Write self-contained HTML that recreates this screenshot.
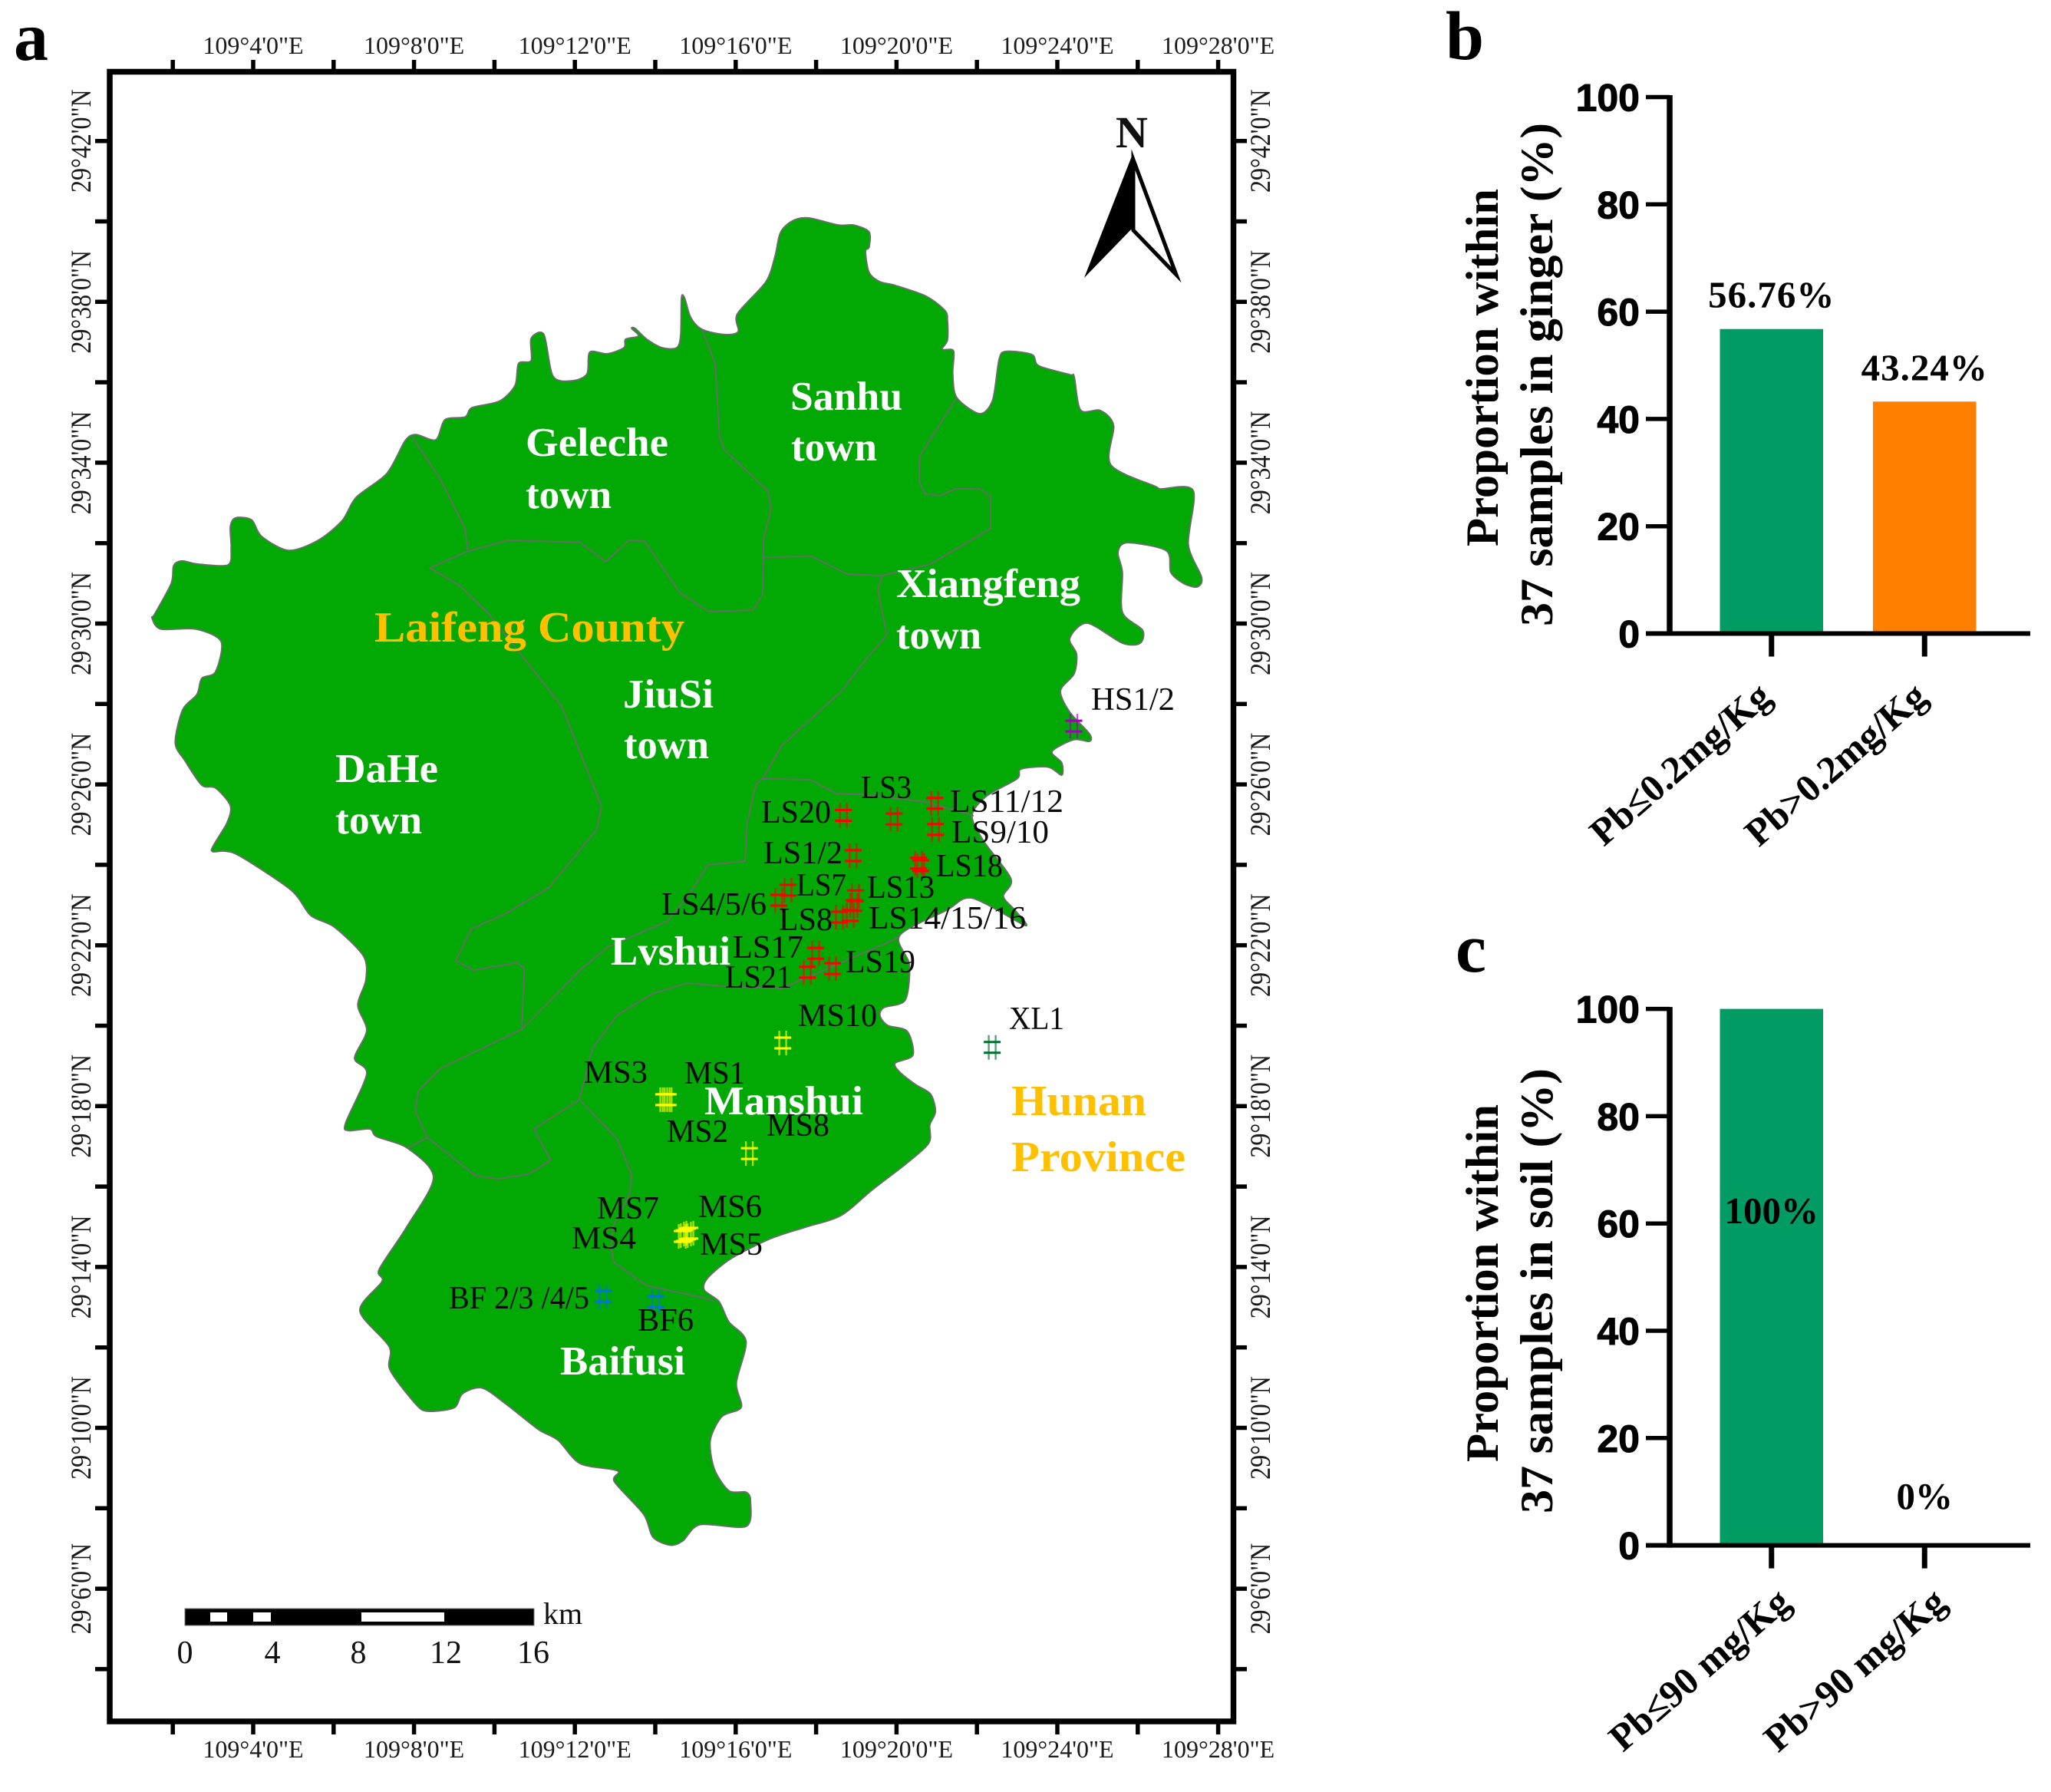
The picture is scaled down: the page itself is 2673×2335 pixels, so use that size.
<!DOCTYPE html>
<html lang="en">
<head>
<meta charset="utf-8">
<title>Laifeng County sampling map and Pb proportions</title>
<style>
html,body{margin:0;padding:0;background:#fff;}
svg{display:block;}
text{font-family:"Liberation Serif",serif;}
.tick{font-size:32px;fill:#1a1a1a;}
.town{font-size:53px;font-weight:bold;fill:#fff;}
.gold{font-size:56px;font-weight:bold;fill:#ffc000;}
.site{font-size:42px;fill:#0a0a0a;}
.panel{font-size:90px;font-weight:bold;fill:#000;}
.ytitle{font-size:60px;font-weight:bold;fill:#000;}
.val{font-size:49px;font-weight:bold;fill:#000;}
.cat{font-size:50px;font-weight:bold;fill:#000;}
.num{font-family:"Liberation Sans",sans-serif;font-size:50px;font-weight:bold;fill:#000;stroke:#000;stroke-width:1;}
</style>
</head>
<body>
<svg id="figure" xmlns="http://www.w3.org/2000/svg" width="2673" height="2335" viewBox="0 0 2673 2335">
<rect x="0" y="0" width="2673" height="2335" fill="#fff"/>

<text class="panel" x="18" y="78">a</text>
<text class="panel" x="1884" y="77">b</text>
<text class="panel" x="1897" y="1266">c</text>

<g id="map-layer"></g>
<g id="site-layer"></g>

<g>
<text class="town" x="685" y="594" textLength="186" lengthAdjust="spacingAndGlyphs">Geleche</text>
<text class="town" x="685" y="662" textLength="112" lengthAdjust="spacingAndGlyphs">town</text>
<text class="town" x="1030" y="534" textLength="146" lengthAdjust="spacingAndGlyphs">Sanhu</text>
<text class="town" x="1031" y="600" textLength="112" lengthAdjust="spacingAndGlyphs">town</text>
<text class="town" x="1168" y="778" textLength="240" lengthAdjust="spacingAndGlyphs">Xiangfeng</text>
<text class="town" x="1168" y="845" textLength="111" lengthAdjust="spacingAndGlyphs">town</text>
<text class="town" x="812" y="922" textLength="118" lengthAdjust="spacingAndGlyphs">JiuSi</text>
<text class="town" x="813" y="988" textLength="111" lengthAdjust="spacingAndGlyphs">town</text>
<text class="town" x="437" y="1019" textLength="134" lengthAdjust="spacingAndGlyphs">DaHe</text>
<text class="town" x="437" y="1086" textLength="113" lengthAdjust="spacingAndGlyphs">town</text>
<text class="town" x="796" y="1257" textLength="156" lengthAdjust="spacingAndGlyphs">Lvshui</text>
<text class="town" x="918" y="1452" textLength="207" lengthAdjust="spacingAndGlyphs">Manshui</text>
<text class="town" x="730" y="1791" textLength="163" lengthAdjust="spacingAndGlyphs">Baifusi</text>
<text class="gold" x="488" y="836" textLength="404" lengthAdjust="spacingAndGlyphs">Laifeng County</text>
<text class="gold" x="1318" y="1453" textLength="176" lengthAdjust="spacingAndGlyphs">Hunan</text>
<text class="gold" x="1318" y="1526" textLength="227" lengthAdjust="spacingAndGlyphs">Province</text>
</g>

<g>
<text class="site" x="1122" y="1040" textLength="66" lengthAdjust="spacingAndGlyphs">LS3</text>
<text class="site" x="1238" y="1058" textLength="148" lengthAdjust="spacingAndGlyphs">LS11/12</text>
<text class="site" x="1240" y="1098" textLength="127" lengthAdjust="spacingAndGlyphs">LS9/10</text>
<text class="site" x="992" y="1072" textLength="91" lengthAdjust="spacingAndGlyphs">LS20</text>
<text class="site" x="995" y="1125" textLength="103" lengthAdjust="spacingAndGlyphs">LS1/2</text>
<text class="site" x="1220" y="1142" textLength="87" lengthAdjust="spacingAndGlyphs">LS18</text>
<text class="site" x="1038" y="1167" textLength="65" lengthAdjust="spacingAndGlyphs">LS7</text>
<text class="site" x="1130" y="1170" textLength="88" lengthAdjust="spacingAndGlyphs">LS13</text>
<text class="site" x="862" y="1192" textLength="137" lengthAdjust="spacingAndGlyphs">LS4/5/6</text>
<text class="site" x="1015" y="1212" textLength="70" lengthAdjust="spacingAndGlyphs">LS8</text>
<text class="site" x="1132" y="1210" textLength="205" lengthAdjust="spacingAndGlyphs">LS14/15/16</text>
<text class="site" x="955" y="1248" textLength="92" lengthAdjust="spacingAndGlyphs">LS17</text>
<text class="site" x="945" y="1287" textLength="87" lengthAdjust="spacingAndGlyphs">LS21</text>
<text class="site" x="1102" y="1267" textLength="91" lengthAdjust="spacingAndGlyphs">LS19</text>
<text class="site" x="1040" y="1337" textLength="103" lengthAdjust="spacingAndGlyphs">MS10</text>
<text class="site" x="1315" y="1341" textLength="72" lengthAdjust="spacingAndGlyphs">XL1</text>
<text class="site" x="1422" y="925" textLength="109" lengthAdjust="spacingAndGlyphs">HS1/2</text>
<text class="site" x="761" y="1411" textLength="83" lengthAdjust="spacingAndGlyphs">MS3</text>
<text class="site" x="892" y="1412" textLength="79" lengthAdjust="spacingAndGlyphs">MS1</text>
<text class="site" x="869" y="1488" textLength="80" lengthAdjust="spacingAndGlyphs">MS2</text>
<text class="site" x="999" y="1480" textLength="82" lengthAdjust="spacingAndGlyphs">MS8</text>
<text class="site" x="778" y="1588" textLength="81" lengthAdjust="spacingAndGlyphs">MS7</text>
<text class="site" x="910" y="1586" textLength="83" lengthAdjust="spacingAndGlyphs">MS6</text>
<text class="site" x="745" y="1627" textLength="84" lengthAdjust="spacingAndGlyphs">MS4</text>
<text class="site" x="912" y="1635" textLength="82" lengthAdjust="spacingAndGlyphs">MS5</text>
<text class="site" x="585" y="1705" textLength="183" lengthAdjust="spacingAndGlyphs">BF 2/3 /4/5</text>
<text class="site" x="831" y="1734" textLength="73" lengthAdjust="spacingAndGlyphs">BF6</text>
</g>

<g>
<text x="1475" y="192" text-anchor="middle" font-size="58" font-weight="bold" fill="#111">N</text>
<polygon points="1476,201 1413,362 1477,296" fill="#000"/>
<polygon points="1477,208 1533,358 1477,300" fill="#fff" stroke="#000" stroke-width="5" stroke-miterlimit="12"/>
</g>

<g>
<rect x="241" y="2096" width="455" height="22" fill="#000" stroke="#777" stroke-width="1"/>
<rect x="274" y="2101" width="22" height="12" fill="#fff"/>
<rect x="330" y="2101" width="23" height="12" fill="#fff"/>
<rect x="471" y="2101" width="108" height="12" fill="#fff"/>
<text x="708" y="2116" font-size="40" fill="#111">km</text>
<text x="241" y="2167" font-size="42" text-anchor="middle" fill="#111">0</text>
<text x="355" y="2167" font-size="42" text-anchor="middle" fill="#111">4</text>
<text x="467" y="2167" font-size="42" text-anchor="middle" fill="#111">8</text>
<text x="581" y="2167" font-size="42" text-anchor="middle" fill="#111">12</text>
<text x="695" y="2167" font-size="42" text-anchor="middle" fill="#111">16</text>
</g>

<g id="frame-layer"></g>

<g>
<text class="ytitle" transform="translate(1952 479) rotate(-90)" text-anchor="middle" textLength="466" lengthAdjust="spacingAndGlyphs">Proportion within</text>
<text class="ytitle" transform="translate(2023 488) rotate(-90)" text-anchor="middle" textLength="656" lengthAdjust="spacingAndGlyphs">37 samples in ginger (%)</text>
</g>
<g>
<text class="ytitle" transform="translate(1952 1672) rotate(-90)" text-anchor="middle" textLength="466" lengthAdjust="spacingAndGlyphs">Proportion within</text>
<text class="ytitle" transform="translate(2023 1682) rotate(-90)" text-anchor="middle" textLength="580" lengthAdjust="spacingAndGlyphs">37 samples in soil (%)</text>
</g>
<g id="chart-b"></g>
<g id="chart-c"></g>
</svg>

<script>
// ---------- Map graticule: arc-minutes past 109 deg E and 29 deg N ----------
const lonTickMinutes = [2,4,6,8,10,12,14,16,18,20,22,24,26,28];
const lonTickLabels = ['', '109°4\'0"E', '', '109°8\'0"E', '', '109°12\'0"E', '', '109°16\'0"E', '', '109°20\'0"E', '', '109°24\'0"E', '', '109°28\'0"E'];
const latTickMinutes = [42,40,38,36,34,32,30,28,26,24,22,20,18,16,14,12,10,8,6,4];
const latTickLabels = ['29°42\'0"N', '', '29°38\'0"N', '', '29°34\'0"N', '', '29°30\'0"N', '', '29°26\'0"N', '', '29°22\'0"N', '', '29°18\'0"N', '', '29°14\'0"N', '', '29°10\'0"N', '', '29°6\'0"N', ''];

const countyOutline = [
[1.55,30.24],[1.96,31.00],[2.02,31.44],[2.23,31.56],[2.63,31.48],[3.37,31.46],[3.45,31.88],[3.43,32.41],[3.56,32.63],[3.96,32.58],
[4.21,32.17],[4.88,31.82],[5.61,32.07],[6.21,32.56],[6.56,33.14],[7.32,33.73],[7.78,34.55],[8.05,34.70],[8.54,34.57],[8.77,35.07],
[9.27,35.14],[9.44,35.37],[10.12,35.53],[10.51,35.92],[10.60,36.47],[10.91,36.54],[10.91,37.09],[11.23,37.19],[11.46,36.15],[11.94,36.04],
[12.30,36.21],[12.37,36.75],[12.80,36.71],[13.22,36.86],[13.26,37.07],[13.58,37.15],[13.41,37.34],[13.50,37.34],[13.79,37.07],[14.17,36.86],
[14.53,36.86],[14.63,37.17],[14.65,38.10],[14.73,38.10],[14.88,37.62],[15.16,37.32],[15.70,37.19],[16.06,37.26],[16.04,37.70],[16.75,38.50],
[16.98,39.15],[17.11,39.72],[17.40,40.01],[17.80,40.09],[18.56,39.91],[18.94,39.91],[19.32,39.74],[19.32,39.36],[19.23,39.25],[19.32,38.73],
[19.59,38.50],[19.97,38.41],[20.74,38.14],[21.21,37.78],[21.27,37.53],[21.27,37.05],[21.14,36.82],[21.42,36.78],[21.40,36.21],[21.50,35.62],
[22.07,35.22],[22.39,35.56],[22.55,36.57],[22.72,36.77],[23.37,36.69],[23.54,36.41],[24.31,36.19],[24.42,36.14],[24.58,35.31],
[25.07,35.30],[25.40,34.93],[25.33,33.95],[26.44,33.41],[26.56,33.35],[27.38,33.31],[27.26,31.97],[27.59,31.15],[27.48,30.91],[27.15,30.99],
[26.82,31.27],[26.71,31.81],[25.74,32.01],[25.51,31.77],[25.62,31.27],[25.62,30.28],[26.12,29.84],[26.06,29.51],[25.62,29.51],[24.74,30.01],
[24.31,29.63],[24.48,29.24],[24.42,28.75],[24.08,28.33],[24.31,27.80],[24.80,27.26],[24.80,27.07],[24.41,27.11],[23.87,26.82],[24.11,26.54],
[24.11,26.23],[23.77,26.43],[23.10,26.38],[23.00,26.14],[22.23,25.70],[21.88,25.22],[22.17,24.59],[22.85,23.65],[22.66,23.22],[22.95,22.87],
[23.20,22.49],[21.88,23.17],[21.25,22.87],[20.08,22.24],[20.32,21.52],[20.22,20.64],[19.69,20.45],[19.59,20.25],[19.78,20.01],[20.27,19.86],
[20.41,19.27],[19.97,19.07],[20.08,18.85],[20.47,18.54],[20.85,18.30],[20.97,17.86],[20.83,17.53],[20.81,17.09],[20.27,16.59],[19.40,15.92],
[18.62,15.28],[17.74,14.99],[16.86,14.70],[15.89,14.21],[15.31,13.73],[15.22,13.43],[15.59,13.14],[15.83,12.64],[16.26,12.15],[16.02,11.12],
[16.14,10.51],[15.66,10.28],[15.37,9.69],[15.47,8.98],[15.83,8.44],[16.26,8.40],[16.37,8.18],[16.26,7.55],[15.11,7.59],[14.69,7.19],
[14.38,7.08],[13.94,7.28],[13.71,7.85],[12.98,8.66],[13.06,8.93],[12.13,9.11],[11.58,9.69],[11.09,9.96],[10.30,10.58],[9.69,10.99],
[9.21,10.85],[9.00,10.50],[8.35,10.41],[8.05,10.58],[7.40,11.44],[7.38,12.02],[6.65,12.91],[7.20,13.64],[7.13,13.94],[7.80,14.97],
[8.48,16.22],[7.84,16.95],[7.07,17.24],[6.90,17.43],[6.36,17.39],[6.30,17.59],[6.82,18.80],[6.52,19.19],[6.82,19.88],[6.60,20.51],
[6.80,21.14],[6.74,21.73],[6.02,22.45],[5.43,22.74],[4.94,23.37],[3.68,24.21],[3.29,24.34],[2.96,24.37],[3.34,25.03],[3.43,25.47],
[3.06,25.91],[2.72,25.98],[2.30,26.59],[2.06,27.03],[2.24,27.85],[2.60,28.24],[2.72,28.64],[3.06,28.80],[3.20,29.55],[2.57,29.86],
[1.70,29.86],[1.48,30.14]
];

// Township boundaries as [lon minutes, lat minutes]
const borderGelecheWest = [[7.95,34.65],[8.66,33.58],[9.27,32.36],[9.34,31.80]];
const borderJiusiDahe = [[16.67,30.72],[16.42,30.33],[15.32,30.30],[14.61,30.77],[13.73,32.05],[13.34,32.07],[12.77,31.54],[12.13,32.02],[10.35,32.07],[9.34,31.80],[8.39,31.38],[9.14,30.94],[9.86,30.24],[11.67,27.95],[12.66,25.47],[12.55,24.88],[11.35,23.43],[10.30,22.80],[9.42,22.40],[9.04,21.62],[9.48,21.38],[10.57,21.57],[10.74,21.42],[10.68,19.91]];
const borderGelecheSanhu = [[15.16,37.32],[15.49,36.47],[15.60,34.67],[15.71,34.33],[16.81,33.29],[16.88,32.85],[16.69,32.09],[16.67,30.72]];
const borderSanhuSouth = [[16.69,31.65],[17.89,31.67],[18.77,31.23],[19.65,31.19],[20.85,31.48],[22.34,32.36],[22.34,33.18],[22.06,33.35],[21.46,33.35],[21.08,33.18],[20.70,33.23],[20.56,33.56],[20.58,34.17],[21.50,35.62]];
const borderJiusiXiangfeng = [[19.65,31.19],[19.53,30.83],[19.76,29.72],[19.21,29.07],[18.64,28.33],[17.15,26.97],[16.67,26.14]];
const borderLvshuiNorth = [[21.92,25.22],[20.76,25.56],[19.20,25.75],[18.52,25.77],[17.84,26.12],[16.67,26.14],[16.50,26.00],[16.28,25.02],[16.23,24.09],[15.31,24.00],[14.87,23.31],[14.31,22.60],[12.82,21.96],[12.17,21.42],[10.68,19.91],[8.66,18.94],[8.10,18.37],[8.03,17.87],[8.33,17.22],[7.84,16.96]];
const borderManshui = [[8.33,17.22],[9.53,16.27],[10.09,16.19],[10.85,16.31],[11.40,16.65],[10.98,17.43],[12.11,18.16],[12.44,19.44],[13.05,20.26],[13.92,20.79],[14.79,21.06],[15.70,20.98],[17.15,20.93],[17.84,21.23],[19.97,22.15],[20.08,22.24]];
const borderBaifusi = [[12.11,18.16],[13.05,17.19],[13.41,16.31],[13.37,15.83],[12.93,14.97],[12.91,14.44],[12.97,14.12],[13.77,13.54],[15.22,13.23],[15.47,13.14]];

// Sampling sites
const siteNames = ['LS20','LS3','LS11/12','LS9/10','LS1/2','LS18a','LS18b','LS7','LS4/5/6','LS13','LS14','LS15/16','LS8','LS17','LS21','LS19','HS1/2','MS10','XL1','MS8','MS1','MS2','MS3','MS4','MS5','MS6','MS7','BF2/3/4/5','BF6'];
const siteLon = [18.68,19.94,20.95,20.97,18.92,20.55,20.60,17.30,17.07,18.98,18.94,18.85,18.58,17.99,17.78,18.41,24.41,17.17,22.38,16.34,14.21,14.27,14.32,14.67,14.72,14.80,14.86,12.70,14.01];
const siteLat = [25.23,25.14,25.53,24.88,24.23,24.04,23.98,23.37,23.12,23.23,22.99,22.74,22.70,21.80,21.33,21.42,27.45,19.57,19.46,16.82,18.16,18.16,18.16,14.76,14.78,14.82,14.84,13.27,13.14];

// Bar charts
const yTickValues = [0,20,40,60,80,100];
const categoriesB = ['Pb≤0.2mg/Kg','Pb>0.2mg/Kg'];
const valuesB = [56.76,43.24];
const printedB = ['56.76%','43.24%'];
const categoriesC = ['Pb≤90 mg/Kg','Pb>90 mg/Kg'];
const valuesC = [100,0];
const printedC = ['100%','0%'];

const SVGNS = 'http://www.w3.org/2000/svg';
function mk(tag, attrs, parent) {
  const el = document.createElementNS(SVGNS, tag);
  for (const k in attrs) el.setAttribute(k, attrs[k]);
  parent.appendChild(el);
  return el;
}

// axis functions for the map
const lonX = m => 120.4 + 52.4 * m;
const latY = m => 2384.5 - 52.4 * m;
const pts = arr => arr.map(p => lonX(p[0]).toFixed(1) + ',' + latY(p[1]).toFixed(1)).join(' ');

// closed Catmull-Rom spline through projected outline points
function smoothClosed(arr) {
  const P = arr.map(p => [lonX(p[0]), latY(p[1])]);
  const n = P.length;
  const k = 1 / 7;
  let d = 'M' + P[0][0].toFixed(1) + ' ' + P[0][1].toFixed(1);
  for (let i = 0; i < n; i++) {
    const a = P[(i - 1 + n) % n], b = P[i], c = P[(i + 1) % n], e = P[(i + 2) % n];
    d += 'C' + (b[0] + (c[0] - a[0]) * k).toFixed(1) + ' ' + (b[1] + (c[1] - a[1]) * k).toFixed(1) + ' ' +
         (c[0] - (e[0] - b[0]) * k).toFixed(1) + ' ' + (c[1] - (e[1] - b[1]) * k).toFixed(1) + ' ' +
         c[0].toFixed(1) + ' ' + c[1].toFixed(1);
  }
  return d + 'Z';
}

const mapLayer = document.getElementById('map-layer');
const county = mk('path', {d: smoothClosed(countyOutline), fill: '#02a804', stroke: '#6d6d6d', 'stroke-width': 1.8, 'stroke-linejoin': 'round'}, mapLayer);



const borders = [borderGelecheWest, borderJiusiDahe, borderGelecheSanhu, borderSanhuSouth, borderJiusiXiangfeng, borderLvshuiNorth, borderManshui, borderBaifusi];
borders.forEach(b => {
  const line = mk('polyline', {points: pts(b), fill: 'none', stroke: '#6b6b6b', 'stroke-width': 1.8, 'stroke-linejoin': 'round'}, mapLayer);
  
  
});

function siteColour(name) {
  const p = name.slice(0, 2);
  if (p === 'LS') return '#ff0000';
  if (p === 'MS') return '#ffff00';
  if (p === 'BF') return '#0070e8';
  if (p === 'HS') return '#a000b8';
  return '#006e2c';
}
const siteLayer = document.getElementById('site-layer');
siteNames.forEach((name, i) => {
  const cx = lonX(siteLon[i]);
  const cy = latY(siteLat[i]);
  const colour = siteColour(name);
  const g = mk('g', {}, siteLayer);
  
  
  [-4.5, 4.5].forEach(dx => {
    mk('line', {x1: cx + dx, x2: cx + dx, y1: cy - 16, y2: cy + 16, stroke: colour, 'stroke-width': 2.4, 'stroke-opacity': 0.65}, g);
  });
  [-7, 7].forEach(dy => {
    mk('line', {x1: cx - 11, x2: cx + 11, y1: cy + dy, y2: cy + dy, stroke: colour, 'stroke-width': 3}, g);
  });
});

// frame, ticks, graticule labels
const frameLayer = document.getElementById('frame-layer');
const FRAME = {l: 143, t: 93.5, r: 1607.5, b: 2243};
const frame = mk('rect', {x: FRAME.l, y: FRAME.t, width: FRAME.r - FRAME.l, height: FRAME.b - FRAME.t, fill: 'none', stroke: '#000', 'stroke-width': 7.5}, frameLayer);



lonTickMinutes.forEach((m, i) => {
  const x = lonX(m);
  const topTick = mk('line', {x1: x, x2: x, y1: 78, y2: 92, stroke: '#000', 'stroke-width': 5.5}, frameLayer);
  
  
  const botTick = mk('line', {x1: x, x2: x, y1: 2245, y2: 2260, stroke: '#000', 'stroke-width': 5.5}, frameLayer);
  
  
  if (lonTickLabels[i]) {
    const t1 = mk('text', {class: 'tick', x: x, y: 70, 'text-anchor': 'middle'}, frameLayer);
    t1.textContent = lonTickLabels[i];
    
    
    const t2 = mk('text', {class: 'tick', x: x, y: 2290, 'text-anchor': 'middle'}, frameLayer);
    t2.textContent = lonTickLabels[i];
    
    
  }
});
latTickMinutes.forEach((m, i) => {
  const y = latY(m);
  const lTick = mk('line', {x1: 124, x2: 141, y1: y, y2: y, stroke: '#000', 'stroke-width': 5.5}, frameLayer);
  
  
  const rTick = mk('line', {x1: 1610, x2: 1625, y1: y, y2: y, stroke: '#000', 'stroke-width': 5.5}, frameLayer);
  
  
  if (latTickLabels[i]) {
    const t1 = mk('text', {class: 'tick', transform: 'translate(118 ' + y + ') rotate(-90) scale(1 1.14)', 'text-anchor': 'middle'}, frameLayer);
    t1.textContent = latTickLabels[i];
    
    
    const t2 = mk('text', {class: 'tick', transform: 'translate(1655 ' + y + ') rotate(-90) scale(1 1.14)', 'text-anchor': 'middle'}, frameLayer);
    t2.textContent = latTickLabels[i];
    
    
  }
});

// bar charts
const barFill = ['#009c63', '#ff8000'];
const barX = i => 2241.5 + i * 199.5;
const BAR_W = 134.5;

function drawChart(groupId, zeroY, values, printed, categories, labelY, catEndY, catEndX) {
  const g = document.getElementById(groupId);
  const yScale = v => zeroY - 6.99 * v;
  values.forEach((v, i) => {
    const bar = mk('rect', {x: barX(i), y: yScale(v), width: BAR_W, height: zeroY - yScale(v), fill: barFill[i]}, g);
    
    
    const tx = barX(i) + BAR_W / 2;
    const lab = mk('text', {class: 'val', x: tx, y: labelY(v, yScale), 'text-anchor': 'middle', 'letter-spacing': printed[i].length > 4 ? 1 : 0}, g);
    lab.textContent = printed[i];
    
    
    const tick = mk('line', {x1: tx, x2: tx, y1: zeroY, y2: zeroY + 30, stroke: '#000', 'stroke-width': 7}, g);
    
    
    const cat = mk('text', {class: 'cat', transform: 'translate(' + (catEndX + i * 203) + ' ' + catEndY + ') rotate(-41)', 'text-anchor': 'end'}, g);
    cat.textContent = categories[i];
    
    
  });
  yTickValues.forEach(v => {
    const y = yScale(v);
    const tick = mk('line', {x1: 2145, x2: 2176, y1: y, y2: y, stroke: '#000', 'stroke-width': 5.5}, g);
    
    
    const lab = mk('text', {class: 'num', x: 2137, y: y + 18, 'text-anchor': 'end'}, g);
    lab.textContent = String(v);
    
    
  });
  const yAxis = mk('line', {x1: 2176, x2: 2176, y1: yScale(100) - 2.5, y2: zeroY + 3, stroke: '#000', 'stroke-width': 7.5}, g);
  
  
  const xAxis = mk('line', {x1: 2145, x2: 2646, y1: zeroY, y2: zeroY, stroke: '#000', 'stroke-width': 6}, g);
  
  
}

drawChart('chart-b', 825.5, valuesB, printedB, categoriesB, (v, y) => y(v) - 28, 912, 2311);
drawChart('chart-c', 2013.6, valuesC, printedC, categoriesC, (v, y) => v === 0 ? y(0) - 47.6 : y(60), 2092, 2336);
</script>
</body>
</html>
